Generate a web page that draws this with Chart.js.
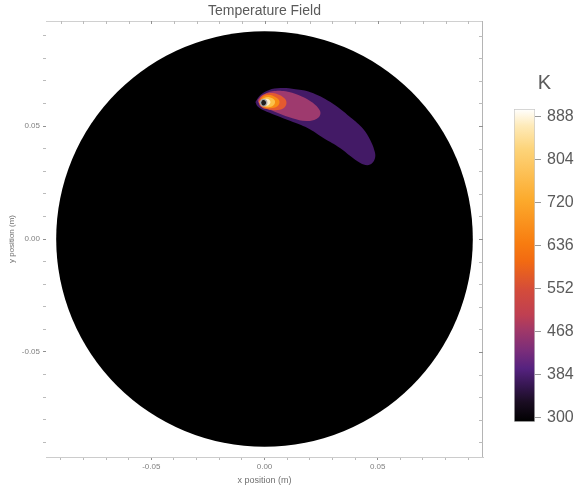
<!DOCTYPE html>
<html>
<head>
<meta charset="utf-8">
<script src="https://cdn.jsdelivr.net/npm/chart.js@4.4.1/dist/chart.umd.min.js"></script>
<style>
    html, body { margin: 0; padding: 0; background: #fff; }
    #wrap { position: relative; width: 575px; height: 487px; }
    #main { position: absolute; left: 0; top: 0; }
    #bar { position: absolute; left: 507px; top: 0; }
</style>
</head>
<body>
<div id="wrap">
    <canvas id="main" width="575" height="487" style="width:575px;height:487px"></canvas>
    <canvas id="bar" width="68" height="487" style="width:68px;height:487px"></canvas>
</div>
<script>
// axes (metres)
const axisMin = -0.0965;
const axisMax = 0.0965;
const tickValues = [-0.09, -0.08, -0.07, -0.06, -0.05, -0.04, -0.03, -0.02, -0.01, 0, 0.01, 0.02, 0.03, 0.04, 0.05, 0.06, 0.07, 0.08, 0.09];
const labelTicks = [-0.05, 0, 0.05];

// disk domain
const diskCenter = [0, 0];
const diskRadius = 0.092;

// contour regions, [x, y] in metres, outer to inner
const plume380 = [[-0.0040, 0.0606], [-0.0018, 0.0637], [0.0018, 0.0659], [0.0071, 0.0668], [0.0137, 0.0663], [0.0203, 0.0650], [0.0291, 0.0606], [0.0379, 0.0539], [0.0437, 0.0486], [0.0467, 0.0438], [0.0485, 0.0393], [0.0489, 0.0363], [0.0476, 0.0336], [0.0454, 0.0327], [0.0423, 0.0336], [0.0379, 0.0367], [0.0335, 0.0402], [0.0260, 0.0447], [0.0190, 0.0491], [0.0115, 0.0522], [0.0049, 0.0548], [-0.0004, 0.0570], [-0.0031, 0.0588]];
const plume470 = [[-0.0031, 0.0615], [-0.0009, 0.0637], [0.0035, 0.0654], [0.0093, 0.0654], [0.0150, 0.0637], [0.0203, 0.0610], [0.0238, 0.0579], [0.0247, 0.0553], [0.0229, 0.0531], [0.0185, 0.0522], [0.0123, 0.0535], [0.0062, 0.0557], [0.0009, 0.0579], [-0.0022, 0.0597]];
const plume580 = [[-0.0026, 0.0610], [-0.0013, 0.0632], [0.0018, 0.0645], [0.0057, 0.0641], [0.0088, 0.0623], [0.0097, 0.0601], [0.0084, 0.0579], [0.0049, 0.0570], [0.0009, 0.0575], [-0.0018, 0.0588]];
const plume660 = [[-0.0022, 0.0606], [-0.0009, 0.0628], [0.0018, 0.0637], [0.0049, 0.0628], [0.0066, 0.0610], [0.0057, 0.0588], [0.0026, 0.0579], [-0.0004, 0.0584]];
const plume760 = [[-0.0022, 0.0606], [-0.0004, 0.0623], [0.0022, 0.0628], [0.0044, 0.0615], [0.0044, 0.0597], [0.0022, 0.0584], [-0.0004, 0.0588]];
const plume850 = [[-0.0022, 0.0606], [-0.0004, 0.0619], [0.0018, 0.0619], [0.0026, 0.0606], [0.0018, 0.0592], [-0.0004, 0.0592]];
const plumeRing = [[-0.0022, 0.0603], [-0.0015, 0.0617], [-0.0002, 0.0621], [0.0009, 0.0615], [0.0013, 0.0603], [0.0009, 0.0592], [-0.0002, 0.0586], [-0.0015, 0.0590]];
const plumeCore = [[-0.0015, 0.0603], [-0.0009, 0.0614], [0.0000, 0.0614], [0.0007, 0.0603], [0.0000, 0.0592], [-0.0009, 0.0592]];

// colour bar (K)
const cbMin = 291;
const cbMax = 903;
const cbTicks = [300, 384, 468, 552, 636, 720, 804, 888];
const cbStopTemps = [291, 330, 360, 395, 430, 470, 500, 550, 605, 640, 725, 825, 870, 903];
const cbStopColors = ['#000000', '#1a0d22', '#34164e', '#55227f', '#7a2d7a', '#a03868', '#bf3f52', '#d44c3a', '#f26a12', '#f87c10', '#fcaa2c', '#fdd47a', '#feeab8', '#ffffff'];

const fontFamily = "'Liberation Sans', Arial, sans-serif";

const regions = [
    { pts: plume380, color: '#431a66' },
    { pts: plume470, color: '#9e3a6e' },
    { pts: plume580, color: '#e45a30' },
    { pts: plume660, color: '#f88c14' },
    { pts: plume760, color: '#fbc24a' },
    { pts: plume850, color: '#fdeec8' },
    { pts: plumeRing, color: '#a8a8a8' },
    { pts: plumeCore, color: '#1e1e1e' },
];

const datasets = regions.map((r, i) => {
    const data = r.pts.map(p => ({ x: p[0], y: p[1] }));
    data.push({ x: r.pts[0][0], y: r.pts[0][1] });
    return {
        data: data,
        showLine: true,
        fill: 'shape',
        backgroundColor: r.color,
        borderColor: r.color,
        borderWidth: 0,
        pointRadius: 0,
        tension: 0.4,
        order: regions.length - i,
    };
});

const isLabel = (v) => labelTicks.some(l => Math.abs(l - v) < 1e-9);

const diskPlugin = {
    id: 'disk',
    beforeDatasetsDraw(chart) {
        const { ctx, scales: { x, y } } = chart;
        const cx = x.getPixelForValue(diskCenter[0]);
        const cy = y.getPixelForValue(diskCenter[1]);
        const rx = x.getPixelForValue(diskCenter[0] + diskRadius) - cx;
        const ry = cy - y.getPixelForValue(diskCenter[1] + diskRadius);
        ctx.save();
        ctx.fillStyle = '#000';
        ctx.beginPath();
        ctx.ellipse(cx, cy, rx, ry, 0, 0, Math.PI * 2);
        ctx.fill();
        ctx.restore();
    },
};

const framePlugin = {
    id: 'frame',
    afterDraw(chart) {
        const { ctx, chartArea: a, scales: { x, y } } = chart;
        ctx.save();
        ctx.lineWidth = 1;
        ctx.strokeStyle = '#d0d0d0';
        ctx.beginPath();
        ctx.moveTo(a.left, a.top + 0.5);
        ctx.lineTo(a.right, a.top + 0.5);
        ctx.stroke();
        ctx.strokeStyle = '#b4b4b4';
        ctx.beginPath();
        ctx.moveTo(a.right - 0.5, a.top);
        ctx.lineTo(a.right - 0.5, a.bottom);
        ctx.stroke();
        tickValues.forEach(v => {
            ctx.strokeStyle = isLabel(v) ? '#909090' : '#bbbbbb';
            const px = Math.round(x.getPixelForValue(v)) + 0.5;
            ctx.beginPath();
            ctx.moveTo(px, a.top);
            ctx.lineTo(px, a.top + 3);
            ctx.stroke();
            const py = Math.round(y.getPixelForValue(v)) + 0.5;
            ctx.beginPath();
            ctx.moveTo(a.right, py);
            ctx.lineTo(a.right - 4, py);
            ctx.stroke();
        });
        ctx.restore();
    },
};

const tickColor = (c) => (c.tick && isLabel(c.tick.value) ? '#909090' : '#bbbbbb');

new Chart(document.getElementById('main'), {
    type: 'scatter',
    data: { datasets: datasets },
    plugins: [diskPlugin, framePlugin],
    options: {
        responsive: false,
        animation: false,
        layout: { padding: { left: 0, right: 92, top: 0, bottom: 0 } },
        plugins: {
            legend: { display: false },
            tooltip: { enabled: false },
            title: {
                display: true,
                text: 'Temperature Field',
                fullSize: false,
                color: '#5a5a5a',
                font: { size: 14, family: fontFamily, weight: 'normal' },
                padding: { top: 3, bottom: 1.2 },
            },
        },
        scales: {
            x: {
                type: 'linear',
                min: axisMin,
                max: axisMax,
                afterBuildTicks: (s) => { s.ticks = tickValues.map(v => ({ value: v })); },
                afterFit: (s) => { s.height = 30; },
                ticks: {
                    autoSkip: false,
                    maxRotation: 0,
                    padding: 2,
                    color: '#808080',
                    font: { size: 8, family: fontFamily },
                    callback: (v) => (isLabel(v) ? v.toFixed(2) : ''),
                },
                grid: { drawOnChartArea: false, tickLength: 3, tickColor: tickColor },
                border: { color: '#cccccc' },
                title: {
                    display: true,
                    text: 'x position (m)',
                    color: '#707070',
                    font: { size: 9, family: fontFamily },
                    padding: { top: 0, bottom: 1 },
                },
            },
            y: {
                type: 'linear',
                min: axisMin,
                max: axisMax,
                afterBuildTicks: (s) => { s.ticks = tickValues.map(v => ({ value: v })); },
                afterFit: (s) => { s.width = 46; },
                ticks: {
                    autoSkip: false,
                    padding: 3,
                    color: '#808080',
                    font: { size: 8, family: fontFamily },
                    callback: (v) => (isLabel(v) ? v.toFixed(2) : ''),
                },
                grid: { drawOnChartArea: false, tickLength: 3, tickColor: tickColor },
                border: { display: false },
                title: {
                    display: true,
                    text: 'y position (m)',
                    color: '#707070',
                    font: { size: 8, family: fontFamily },
                    padding: { top: 7, bottom: 0 },
                },
            },
        },
    },
});

// colour bar
const barGradient = (c) => {
    const chart = c.chart;
    if (!chart.chartArea) return '#000';
    const ys = chart.scales.y;
    const g = chart.ctx.createLinearGradient(0, ys.getPixelForValue(cbMin), 0, ys.getPixelForValue(cbMax));
    cbStopTemps.forEach((t, i) => g.addColorStop((t - cbMin) / (cbMax - cbMin), cbStopColors[i]));
    return g;
};

new Chart(document.getElementById('bar'), {
    type: 'bar',
    data: {
        labels: ['K'],
        datasets: [{
            data: [[cbMin, cbMax]],
            backgroundColor: barGradient,
            borderColor: '#c8c8c8',
            borderWidth: 1,
            borderSkipped: false,
            barPercentage: 1,
            categoryPercentage: 1,
        }],
    },
    options: {
        responsive: false,
        animation: false,
        layout: { padding: { left: 7, right: 0, top: 0, bottom: 65 } },
        plugins: {
            legend: { display: false },
            tooltip: { enabled: false },
            title: {
                display: true,
                text: 'K',
                color: '#5a5a5a',
                font: { size: 20, family: fontFamily, weight: 'normal' },
                padding: { top: 71, bottom: 14 },
            },
        },
        scales: {
            x: { display: false },
            y: {
                position: 'right',
                min: cbMin,
                max: cbMax,
                afterBuildTicks: (s) => { s.ticks = cbTicks.map(v => ({ value: v })); },
                afterFit: (s) => { s.width = 40; },
                ticks: {
                    autoSkip: false,
                    padding: 6,
                    color: '#5a5a5a',
                    font: { size: 16, family: fontFamily },
                },
                grid: { drawOnChartArea: false, tickLength: 6, tickColor: '#999' },
                border: { display: false },
            },
        },
    },
});
</script>
</body>
</html>
